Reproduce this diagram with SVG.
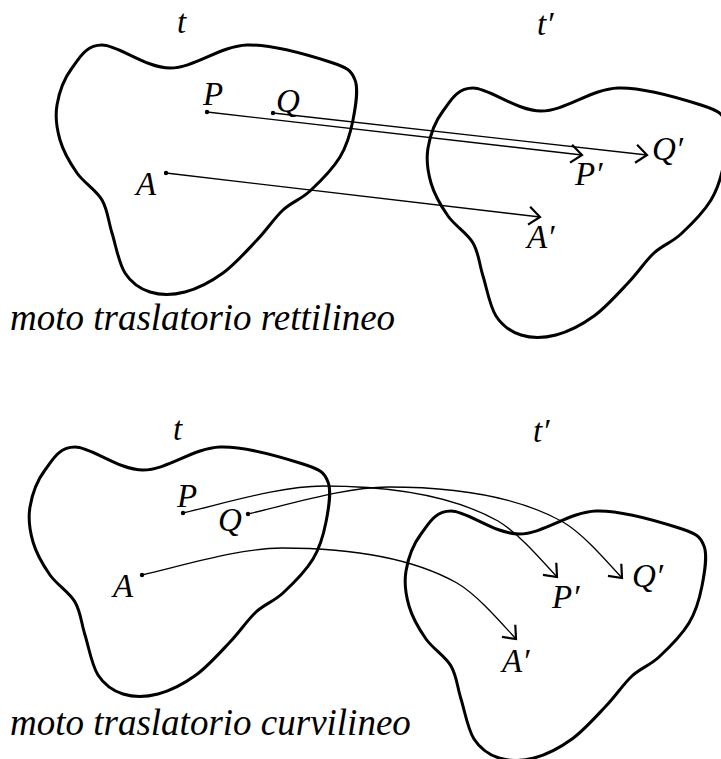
<svg xmlns="http://www.w3.org/2000/svg" xmlns:xlink="http://www.w3.org/1999/xlink" width="721" height="759" viewBox="0 0 721 759">
<style>
.blob{fill:none;stroke:#000;stroke-width:3;stroke-linejoin:round}
.lbl{font-size:33px;fill:#000}
.cap{font-size:37px;fill:#000}
.conn{fill:none;stroke:#000;stroke-width:1.3;marker-end:url(#arr)}
.dot{fill:#000}
</style>
<defs>
<marker id="arr" markerUnits="userSpaceOnUse" markerWidth="30" markerHeight="30" refX="0" refY="0" viewBox="-15 -15 30 30" orient="auto" overflow="visible">
<path d="M-11,-9 L0,0 L-11,9" fill="none" stroke="#000" stroke-width="2.2" stroke-linejoin="miter"/>
</marker>
<path id="blob" class="blob" d="M102,45 C118.3,45 145.8,68 170,68 C194.2,68 220.3,46 247,45 C273.7,44 312,56.2 330,62 C348,67.8 351.2,70.3 355,80 C358.8,89.7 355.5,107.2 353,120 C350.5,132.8 347.2,145.2 340,157 C332.8,168.8 319.5,182.2 310,191 C300.5,199.8 291.8,201.8 283,210 C274.2,218.2 267,229.5 257,240 C247,250.5 235,264.3 223,273 C211,281.7 197.2,288.8 185,292 C172.8,295.2 160,295.2 150,292 C140,288.8 131.3,282.8 125,273 C118.7,263.2 115.8,245.2 112,233 C108.2,220.8 107.8,210 102,200 C96.2,190 84,183 77,173 C70,163 63.3,151.3 60,140 C56.7,128.7 55,117 57,105 C59,93 64.5,78 72,68 C79.5,58 85.7,45 102,45 Z"/>
</defs>

<g id="body-t-rect"><use href="#blob" xlink:href="#blob"/></g>
<g id="body-t1-rect"><use href="#blob" xlink:href="#blob" transform="translate(371,43)"/></g>
<g id="body-t-curv"><use href="#blob" xlink:href="#blob" transform="translate(-27,402)"/></g>
<g id="body-t1-curv"><use href="#blob" xlink:href="#blob" transform="translate(349,466)"/></g>

<g id="connectors">
<path class="conn" d="M207,112 L582,155"/>
<path class="conn" d="M273,113 L647,155"/>
<path class="conn" d="M166,173 L540,217"/>
<path class="conn" d="M183,513 c50,-12 100,-27 140,-27 c60,0 125,7 175,35 c20,12 40,35 59,56"/>
<path class="conn" d="M248,514 c50,-12 100,-27 140,-27 c60,0 125,7 175,35 c20,12 40,35 59,56"/>
<path class="conn" d="M142,575 c50,-12 100,-27 140,-27 c60,0 125,7 175,35 c20,12 40,35 59,56"/>
</g>

<g id="points">
<circle class="dot" cx="207" cy="112" r="2.2"/>
<circle class="dot" cx="273" cy="113" r="2.2"/>
<circle class="dot" cx="166" cy="173" r="2.2"/>
<circle class="dot" cx="183" cy="513" r="2.2"/>
<circle class="dot" cx="248" cy="514" r="2.2"/>
<circle class="dot" cx="142" cy="575" r="2.2"/>
</g>

<g id="labels-rect" font-family="'Times New Roman', Tinos, serif" font-style="italic">
<text class="lbl" x="177" y="33">t</text>
<text class="lbl" x="537" y="35">t′</text>
<text class="lbl" x="203" y="105">P</text>
<text class="lbl" x="276" y="112">Q</text>
<text class="lbl" x="136" y="195">A</text>
<text class="lbl" x="575" y="185">P′</text>
<text class="lbl" x="652" y="160">Q′</text>
<text class="lbl" x="527" y="248">A′</text>
<text class="cap" x="10" y="330">moto traslatorio rettilineo</text>
</g>

<g id="labels-curv" font-family="'Times New Roman', Tinos, serif" font-style="italic">
<text class="lbl" x="173" y="440">t</text>
<text class="lbl" x="533" y="442">t′</text>
<text class="lbl" x="177" y="507">P</text>
<text class="lbl" x="218" y="531">Q</text>
<text class="lbl" x="113" y="597">A</text>
<text class="lbl" x="552" y="608">P′</text>
<text class="lbl" x="632" y="587">Q′</text>
<text class="lbl" x="502" y="672">A′</text>
<text class="cap" x="10" y="735">moto traslatorio curvilineo</text>
</g>
</svg>
